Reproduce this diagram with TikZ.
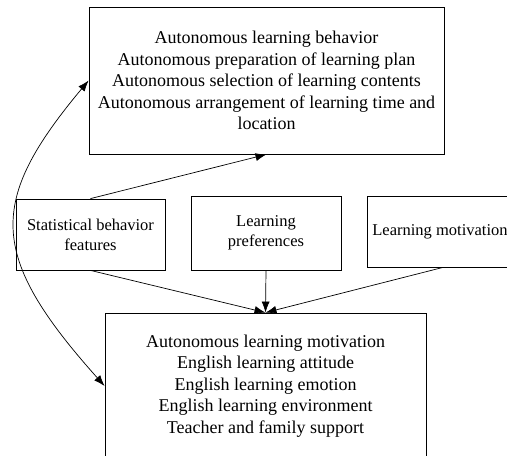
\documentclass[tikz,border=0pt]{standalone}
\usepackage{fontspec}
\setmainfont{Liberation Serif}
\usetikzlibrary{arrows.meta}
\usetikzlibrary{calc}

\begin{document}
\begin{tikzpicture}[x=1pt,y=-1pt,
    box/.style={draw,line width=0.8pt,align=center,inner sep=0pt,
        font=\fontsize{18}{21.5}\selectfont},
    small/.style={box,font=\fontsize{16.5}{20}\selectfont},
    arr/.style={line width=0.7pt,-{Latex[length=11pt,width=8pt]}}]
    \useasboundingbox (0,0) rectangle (507,456);

    \node (top) at (266.5,80.5) [box,minimum width=355,minimum height=147] {Autonomous learning behavior\\Autonomous preparation of learning plan\\Autonomous selection of learning contents\\Autonomous arrangement of learning time and\\location};

    \node (stat) at (90.5,234.5) [small,minimum width=149,minimum height=71] {Statistical behavior\\features};
    \node (pref) at (266,233) [small,minimum width=150,minimum height=74] {Learning\\preferences};
    \node (motiv) at (440,231.5) [small,minimum width=146,minimum height=71] {Learning motivation};

    \node (bot) at (265.5,386) [box,minimum width=321,minimum height=146] {Autonomous learning motivation\\English learning attitude\\English learning emotion\\English learning environment\\Teacher and family support};

    \draw[arr] (stat.north) -- (top.south);
    \draw[arr] (stat.south) -- (bot.north);
    \draw[arr] (pref.south) -- (bot.north);
    \draw[arr] ($(motiv.south)+(3,0)$) -- (bot.north);

    \draw[arr,{Latex[length=11pt,width=8pt]}-{Latex[length=11pt,width=8pt]}] (top.west) .. controls ($(top.west)+(-101,121)$) and ($(bot.west)+(-117,-131)$) .. (bot.west);
\end{tikzpicture}
\end{document}
